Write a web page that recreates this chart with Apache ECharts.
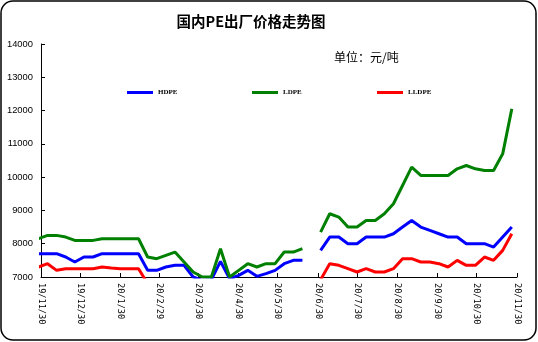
<!DOCTYPE html>
<html><head><meta charset="utf-8">
<script src="https://cdn.jsdelivr.net/npm/echarts@6/dist/echarts.min.js"></script>
<style>html,body{margin:0;padding:0;background:#fff}#c{width:538px;height:342px}</style>
</head><body><div id="c"></div>
<script>
const weekDates = ['2019-11-28','2019-12-05','2019-12-12','2019-12-19','2019-12-26','2020-01-02','2020-01-09','2020-01-16','2020-01-23','2020-01-30','2020-02-06','2020-02-13','2020-02-20','2020-02-27','2020-03-05','2020-03-12','2020-03-19','2020-03-26','2020-04-02','2020-04-09','2020-04-16','2020-04-23','2020-04-30','2020-05-07','2020-05-14','2020-05-21','2020-05-28','2020-06-04','2020-06-11','2020-06-18','2020-06-25','2020-07-02','2020-07-09','2020-07-16','2020-07-23','2020-07-30','2020-08-06','2020-08-13','2020-08-20','2020-08-27','2020-09-03','2020-09-10','2020-09-17','2020-09-24','2020-10-01','2020-10-08','2020-10-15','2020-10-22','2020-10-29','2020-11-05','2020-11-12','2020-11-19','2020-11-26'];
const hdpe = [7700,7700,7700,7600,7450,7600,7600,7700,7700,7700,7700,7700,7200,7200,7300,7350,7350,7000,6900,6920,7470,6950,7050,7200,7020,7100,7200,7400,7500,7500,null,7800,8200,8200,8000,8000,8200,8200,8200,8300,8500,8700,8500,8400,8300,8200,8200,8000,8000,8000,7900,8200,8500];
const ldpe = [8150,8250,8250,8200,8100,8100,8100,8150,8150,8150,8150,8150,7600,7550,7650,7750,7450,7150,7000,7000,7850,7000,7200,7400,7300,7400,7400,7750,7750,7850,null,8350,8900,8800,8500,8500,8700,8700,8900,9200,9750,10300,10050,10050,10050,10050,10250,10350,10250,10200,10200,10700,12050];
const lldpe = [7300,7400,7200,7250,7250,7250,7250,7300,7270,7250,7250,7250,6800,6750,6700,6650,6500,6300,6200,6200,6500,6300,6350,6500,6450,6500,6550,6700,6800,6850,null,6920,7400,7350,7250,7150,7250,7150,7150,7250,7550,7550,7450,7450,7400,7300,7500,7350,7350,7600,7500,7800,8300];
const seriesNames = ['HDPE','LDPE','LLDPE'];
const tickDates = ['2019-11-30','2019-12-30','2020-01-30','2020-02-29','2020-03-30','2020-04-30','2020-05-30','2020-06-30','2020-07-30','2020-08-30','2020-09-30','2020-10-30','2020-11-30'];
const tickLabels = ['19/11/30','19/12/30','20/1/30','20/2/29','20/3/30','20/4/30','20/5/30','20/6/30','20/7/30','20/8/30','20/9/30','20/10/30','20/11/30'];
const yMin = 7000, yMax = 14000, yStep = 1000;

function ts(s){const p=s.split('-').map(Number);return Date.UTC(p[0],p[1]-1,p[2]);}
const tickTs = tickDates.map(ts);
const labelByTs = {}; tickTs.forEach((t,i)=>{labelByTs[t]=tickLabels[i];});
function pairs(arr){return weekDates.map((d,i)=>[ts(d), arr[i] == null ? '-' : arr[i]]);}

const chart = echarts.init(document.getElementById('c'), null, {renderer:'canvas'});
const legendText = {fontSize:7, fontWeight:'bold', fontFamily:'Liberation Serif', color:'#000'};
const legendBase = {icon:'rect', itemWidth:26, itemHeight:3, itemGap:0, padding:0, top:89, textStyle:legendText, selectedMode:false};
chart.setOption({
  animation:false,
  backgroundColor:'#fff',
  title:[
    {text:'国内PE出厂价格走势图', left:251, top:14, textAlign:'center', padding:0,
     textStyle:{fontSize:14.5, fontWeight:'bold', fontFamily:'Noto Sans CJK SC', color:'#000'}},
    {text:'单位：元/吨', left:334, top:51, padding:0,
     textStyle:{fontSize:12, fontWeight:'normal', fontFamily:'Noto Sans CJK SC', color:'#000'}}
  ],
  legend:[
    Object.assign({}, legendBase, {data:['HDPE'], left:127}),
    Object.assign({}, legendBase, {data:['LDPE'], left:252}),
    Object.assign({}, legendBase, {data:['LLDPE'], left:377})
  ],
  grid:{left:41, right:21, top:44, bottom:65, containLabel:false},
  xAxis:{
    type:'value', min:tickTs[0], max:tickTs[tickTs.length-1], scale:true,
    axisLine:{show:true, lineStyle:{color:'#000', width:1}},
    axisTick:{show:true, inside:true, length:4, customValues:tickTs, lineStyle:{color:'#000'}},
    axisLabel:{customValues:tickTs, rotate:-90, margin:6, fontSize:8.6, fontFamily:'DejaVu Sans Mono', color:'#000',
      showMinLabel:true, showMaxLabel:true, hideOverlap:false,
      formatter:function(v){return labelByTs[v] || '';}},
    splitLine:{show:false}
  },
  yAxis:{
    type:'value', min:yMin, max:yMax, interval:yStep,
    axisLine:{show:true, lineStyle:{color:'#000', width:1}},
    axisTick:{show:true, inside:true, length:4, lineStyle:{color:'#000'}},
    axisLabel:{margin:8, fontSize:9.4, fontFamily:'Liberation Sans', color:'#000',
      formatter:function(v){return String(v);}},
    splitLine:{show:false}
  },
  series:[
    {name:seriesNames[0], type:'line', data:pairs(hdpe), showSymbol:false, symbol:'none', color:'#0000ff', lineStyle:{width:3, color:'#0000ff'}},
    {name:seriesNames[1], type:'line', data:pairs(ldpe), showSymbol:false, symbol:'none', color:'#008000', lineStyle:{width:3, color:'#008000'}},
    {name:seriesNames[2], type:'line', data:pairs(lldpe), showSymbol:false, symbol:'none', color:'#ff0000', lineStyle:{width:3, color:'#ff0000'}}
  ],
  graphic:[
    {type:'rect', silent:true, shape:{x:1, y:1, width:535, height:339, r:12}, style:{fill:'none', stroke:'#000', lineWidth:1.5}}
  ]
});
</script></body></html>
